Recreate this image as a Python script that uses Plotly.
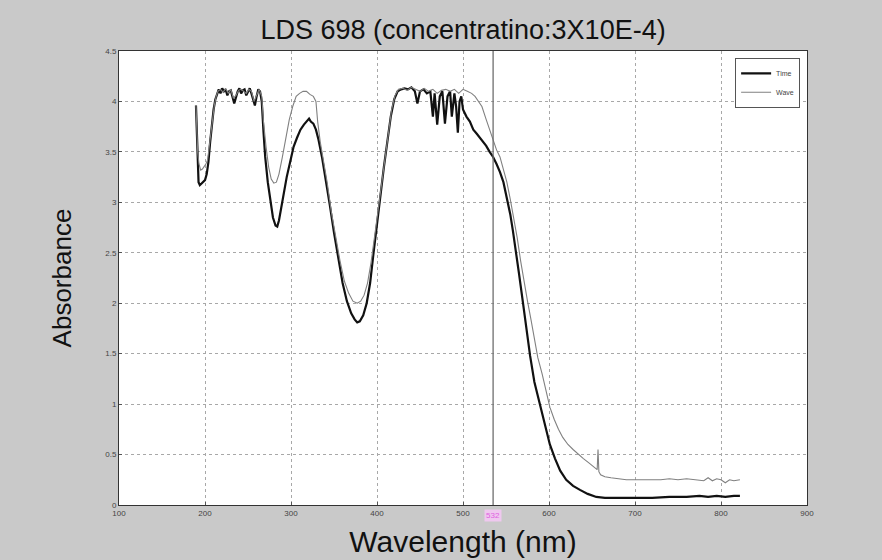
import plotly.graph_objects as go

# ---- data ----
black_nm = [189.5, 190.5, 191.5, 192.5, 194, 196, 198, 200, 202, 204, 206, 208, 210, 212, 214, 216, 218, 220,
            222, 224, 226, 228, 230, 232, 234, 236, 238, 240, 242, 244, 246, 248, 250, 252, 254, 256, 258, 260,
            262, 264, 266, 268, 270, 273, 276, 279, 282, 284, 286, 288, 291, 295, 299, 303, 307, 311, 315, 318,
            321, 323, 326, 329, 332, 336, 340, 345, 350, 355, 360, 365, 370, 374, 377, 380, 384, 388, 392, 396,
            400, 404, 408, 412, 416, 420, 424, 428, 432, 436, 440, 444, 447, 450, 454, 458, 462, 465, 467, 470,
            473, 476, 479, 482, 485, 487, 490, 492, 494, 496, 498, 500, 504, 508, 512, 516, 520, 523, 527, 531,
            535, 539, 543, 547, 551, 555, 558, 562, 565, 569, 573, 578, 583, 589, 595, 601, 607, 613, 620, 628,
            636, 645, 655, 665, 680, 700, 720, 740, 760, 775, 785, 795, 805, 815, 822]
black_abs = [3.96, 3.7, 3.35, 3.2, 3.17, 3.19, 3.2, 3.22, 3.28, 3.4, 3.6, 3.78, 3.92, 4.02, 4.08, 4.12, 4.08, 4.13,
             4.1, 4.12, 4.06, 4.1, 4.11, 4.05, 3.98, 4.04, 4.1, 4.13, 4.08, 4.11, 4.12, 4.06, 4.1, 4.13, 4.08, 4.02, 3.96, 4.05,
             4.12, 4.1, 4.0, 3.7, 3.45, 3.2, 3.0, 2.85, 2.77, 2.76, 2.82, 2.92, 3.06, 3.25, 3.4, 3.55, 3.64, 3.72, 3.77, 3.8,
             3.83, 3.8, 3.78, 3.72, 3.62, 3.45, 3.25, 2.98, 2.7, 2.43, 2.2, 2.02, 1.9, 1.84, 1.81, 1.82, 1.88, 2.0, 2.2, 2.5,
             2.8, 3.1, 3.35, 3.6, 3.85, 4.02, 4.1, 4.12, 4.13, 4.12, 4.14, 4.1, 3.98, 4.1, 4.12, 4.08, 4.1, 3.85, 4.08, 3.77,
             4.05, 4.1, 3.78, 4.05, 4.1, 3.85, 4.08, 3.95, 3.69, 4.0, 4.05, 3.92, 3.85, 3.8, 3.72, 3.68, 3.64, 3.6, 3.56, 3.5,
             3.45, 3.38, 3.3, 3.2, 3.05, 2.88, 2.72, 2.5, 2.3, 2.05, 1.78, 1.48, 1.22, 1.01, 0.8, 0.6, 0.46, 0.34, 0.25, 0.19,
             0.15, 0.11, 0.08, 0.07, 0.07, 0.07, 0.07, 0.08, 0.08, 0.09, 0.08, 0.09, 0.08, 0.09, 0.09]

grey_nm = [189.5, 190.5, 191.5, 193, 195, 197, 199, 201, 203, 205, 207, 209, 211, 213, 215, 218, 221, 224, 227,
           230, 233, 236, 239, 242, 245, 248, 251, 254, 257, 260, 263, 266, 268, 271, 274, 277, 280, 283, 286, 290,
           294, 298, 302, 306, 310, 314, 318, 322, 326, 329, 331, 334, 338, 342, 347, 352, 357, 362, 367, 372, 377,
           381, 385, 389, 393, 397, 401, 405, 409, 413, 417, 421, 425, 430, 435, 440, 445, 450, 455, 460, 465, 470,
           475, 480, 485, 490, 495, 500, 505, 510, 514, 518, 522, 527, 531, 535, 539, 543, 547, 551, 555, 559, 563,
           567, 571, 575, 579, 583, 587, 592, 597, 601, 606, 611, 616, 622, 628, 634, 640, 646, 650, 654, 656, 657,
           658, 660, 665, 672, 680, 690, 700, 710, 720, 730, 740, 750, 760, 770, 780, 785, 790, 795, 800, 805, 810,
           815, 822]
grey_abs = [3.96, 3.75, 3.5, 3.38, 3.32, 3.33, 3.35, 3.38, 3.42, 3.55, 3.7, 3.85, 3.97, 4.05, 4.1, 4.12, 4.09, 4.13, 4.08,
            4.12, 4.03, 4.06, 4.11, 4.12, 4.1, 4.08, 4.12, 4.1, 4.0, 4.06, 4.12, 4.05, 3.8, 3.55, 3.35, 3.23, 3.19, 3.2, 3.28, 3.45,
            3.65, 3.82, 3.95, 4.05, 4.08, 4.1, 4.1, 4.07, 4.05, 4.0, 3.8, 3.6, 3.4, 3.2, 2.9, 2.65, 2.42, 2.22, 2.1, 2.02, 2.0,
            2.02, 2.08, 2.2, 2.4, 2.65, 2.9, 3.18, 3.45, 3.7, 3.92, 4.06, 4.12, 4.13, 4.11, 4.14, 4.12, 4.1, 4.13, 4.1, 4.12, 4.08,
            4.11, 4.12, 4.1, 4.12, 4.08, 4.12, 4.1, 4.08, 4.05, 4.0, 3.95, 3.82, 3.72, 3.62, 3.52, 3.45, 3.33, 3.2, 3.03, 2.85, 2.65,
            2.42, 2.2, 2.02, 1.84, 1.64, 1.46, 1.3, 1.1, 0.97, 0.85, 0.75, 0.67, 0.6, 0.55, 0.5, 0.46, 0.42, 0.39, 0.36, 0.35, 0.55,
            0.33, 0.3, 0.28, 0.27, 0.26, 0.25, 0.25, 0.25, 0.25, 0.25, 0.26, 0.25, 0.26, 0.25, 0.24, 0.27, 0.24, 0.26, 0.25, 0.22, 0.25,
            0.24, 0.25]

series_names = ["Time", "Wave"]
x_ticks = [100, 200, 300, 400, 500, 600, 700, 800, 900]
y_ticks = [0, 0.5, 1, 1.5, 2, 2.5, 3, 3.5, 4, 4.5]
y_tick_labels = ["0", "0.5", "1", "1.5", "2", "2.5", "3", "3.5", "4", "4.5"]
laser_nm = 535
laser_label = "532"

BG = "#c9c9c9"

fig = go.Figure()
fig.add_trace(go.Scatter(x=black_nm, y=black_abs, mode="lines", name=series_names[0],
                         line=dict(color="#111111", width=2.2)))
fig.add_trace(go.Scatter(x=grey_nm, y=grey_abs, mode="lines", name=series_names[1],
                         line=dict(color="#808080", width=1.1)))

fig.add_shape(type="line", x0=laser_nm, x1=laser_nm, y0=0, y1=4.5, xref="x", yref="y",
              line=dict(color="#6e6e6e", width=1.3))
fig.add_annotation(x=laser_nm, y=0, xref="x", yref="y", yshift=-10, text=laser_label,
                   showarrow=False, font=dict(size=8, color="#e060e0", family="Arial"),
                   bgcolor="#efc8ef")

grid = dict(showgrid=True, gridcolor="#a8a8a8", griddash="dot", gridwidth=1)
fig.update_xaxes(range=[100, 900], tickvals=x_ticks, ticktext=[str(t) for t in x_ticks],
                 showline=True, linecolor="#333333", linewidth=1, mirror=True,
                 ticks="inside", ticklen=3, tickcolor="#555555",
                 tickfont=dict(size=8, color="#444444", family="Arial"),
                 title=dict(text="Wavelength (nm)", font=dict(size=30, color="#111111", family="Arial"), standoff=14),
                 automargin=False, zeroline=False, **grid)
fig.update_yaxes(range=[0, 4.5], tickvals=y_ticks, ticktext=y_tick_labels,
                 showline=True, linecolor="#333333", linewidth=1, mirror=True,
                 ticks="inside", ticklen=3, tickcolor="#555555",
                 tickfont=dict(size=8, color="#444444", family="Arial"),
                 title=dict(text="Absorbance", font=dict(size=26, color="#111111", family="Arial"), standoff=26),
                 automargin=False, zeroline=False, **grid)

fig.update_layout(
    width=882, height=560,
    paper_bgcolor=BG, plot_bgcolor="#ffffff",
    margin=dict(l=119, r=75, t=51, b=55),
    title=dict(text="LDS 698 (concentratino:3X10E-4)", x=0.525, xanchor="center", y=0.947, yanchor="middle",
               font=dict(size=27, color="#111111", family="Arial")),
    showlegend=True,
    legend=dict(x=0.99, y=0.985, xanchor="right", yanchor="top", bgcolor="#ffffff",
                bordercolor="#555555", borderwidth=1, font=dict(size=7, color="#444444", family="Arial"),
                tracegroupgap=0, itemwidth=30),
)

fig.write_html("out.html", config={"displayModeBar": False},
               post_script="document.body.style.margin='0';document.body.style.background='%s';" % BG)
